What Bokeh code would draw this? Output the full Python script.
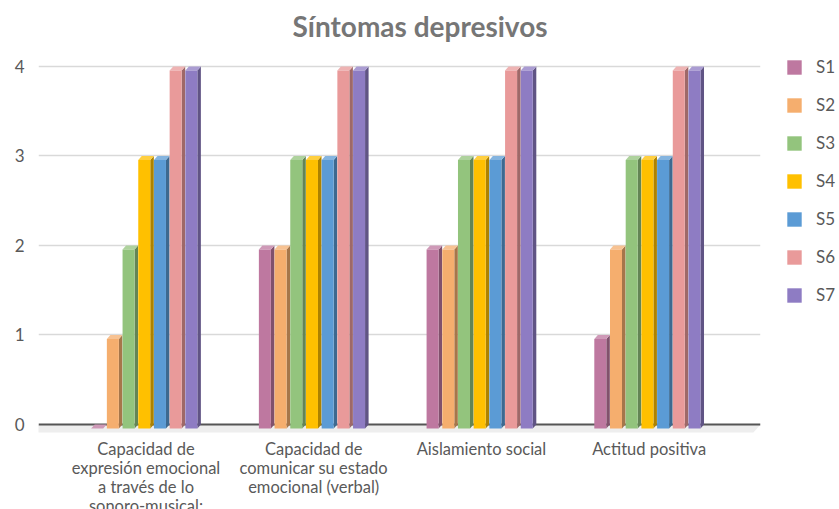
from bokeh.plotting import figure
from bokeh.models import FixedTicker, Legend, LegendItem
from bokeh.embed import file_html
from bokeh.resources import INLINE

# ---- data -------------------------------------------------------------
categories = [
    "Capacidad de\nexpresión emocional\na través de lo\nsonoro-musical:",
    "Capacidad de\ncomunicar su estado\nemocional (verbal)",
    "Aislamiento social",
    "Actitud positiva",
]
series_names = ["S1", "S2", "S3", "S4", "S5", "S6", "S7"]
s1 = [0, 2, 2, 1]
s2 = [1, 2, 2, 2]
s3 = [2, 3, 3, 3]
s4 = [3, 3, 3, 3]
s5 = [3, 3, 3, 3]
s6 = [4, 4, 4, 4]
s7 = [4, 4, 4, 4]
series_values = [s1, s2, s3, s4, s5, s6, s7]
y_ticks = [0, 1, 2, 3, 4]

# ---- styling ----------------------------------------------------------
base_colors = ["#BE78A0", "#F5AE6E", "#93C47D", "#FFC000",
               "#5B9BD5", "#E99A9A", "#8E7CC3"]
FONT = "Lato"
TEXT = "#595959"


def shade(hex_color, f):
    r, g, b = (int(hex_color[i:i + 2], 16) for i in (1, 3, 5))
    return "#%02x%02x%02x" % (int(r * f), int(g * f), int(b * f))


def tint(hex_color, f):
    r, g, b = (int(hex_color[i:i + 2], 16) for i in (1, 3, 5))
    return "#%02x%02x%02x" % (int(r + (255 - r) * f), int(g + (255 - g) * f),
                              int(b + (255 - b) * f))


# 3D bar geometry (category units on x, value units on y)
slot = 0.0936      # horizontal space per series
front_w = 0.0716   # width of a bar's front face
dx = 0.021         # depth offset to the right
dz = 0.0447        # depth offset upwards
floor_dx = 0.042
floor_dz = 0.089

x_start, x_end = -0.641, 3.664
p = figure(
    frame_width=722, frame_height=391,
    x_range=(x_start, x_end), y_range=(-0.1341, 4.2346),
    output_backend="svg", toolbar_location=None,
    min_border_left=38, min_border_right=79, min_border_top=45,
    min_border_bottom=60,
    background_fill_color="white", border_fill_color="white",
    outline_line_color=None,
)

# title
p.title.text = "Síntomas depresivos"
p.title.align = "left"
p.title.offset = 254
p.title.standoff = 4
p.title.text_font = FONT
p.title.text_font_size = "28px"
p.title.text_font_style = "bold"
p.title.text_color = "#767676"
p.title.vertical_align = "middle"

# axes
p.yaxis.ticker = FixedTicker(ticks=y_ticks)
p.yaxis.axis_line_color = None
p.yaxis.major_tick_line_color = None
p.yaxis.minor_tick_line_color = None
p.yaxis.major_label_standoff = 8
p.yaxis.major_label_text_font = FONT
p.yaxis.major_label_text_font_size = "17px"
p.yaxis.major_label_text_color = TEXT

p.xaxis.ticker = FixedTicker(ticks=list(range(len(categories))))
p.xaxis.major_label_overrides = {i: c for i, c in enumerate(categories)}
p.xaxis.axis_line_color = None
p.xaxis.major_tick_line_color = None
p.xaxis.minor_tick_line_color = None
p.xaxis.major_label_standoff = -4
p.xaxis.major_label_text_font = FONT
p.xaxis.major_label_text_font_size = "16.5px"
p.xaxis.major_label_text_color = TEXT
p.xaxis.major_label_text_line_height = 0.95

p.xgrid.visible = False
p.ygrid.ticker = FixedTicker(ticks=y_ticks[1:])
p.ygrid.grid_line_color = "#D9D9D9"
p.ygrid.grid_line_width = 1.3

# floor of the 3D box
p.patch(x=[x_start, x_end, x_end - floor_dx, x_start - floor_dx],
        y=[0, 0, -floor_dz, -floor_dz], fill_color="#EEEEEE", line_color=None)
p.hspan(y=[0], line_color="#555555", line_width=2)

# bars
legend_items = []
n_cat = len(categories)
for j, (name, vals, col) in enumerate(zip(series_names, series_values, base_colors)):
    lefts = [i - 0.327 + j * slot for i in range(n_cat)]
    rights = [l + front_w for l in lefts]
    side_xs = [[r, r + dx, r + dx, r] for r in rights]
    side_ys = [[-dz, 0, v, v - dz] for v in vals]
    top_xs = [[l, r, r + dx, l + dx] for l, r in zip(lefts, rights)]
    top_ys = [[v - dz, v - dz, v, v] for v in vals]
    p.patches(side_xs, side_ys, fill_color=shade(col, 0.68), line_color=None)
    p.patches(top_xs, top_ys, fill_color=tint(col, 0.25), line_color=None)
    front = p.quad(left=lefts, right=rights,
                   bottom=[-dz] * n_cat, top=[v - dz for v in vals],
                   fill_color=col, line_color=None)
    legend_items.append(LegendItem(label=name, renderers=[front]))

legend = Legend(
    items=legend_items, location=(25, 131),
    glyph_width=18, glyph_height=18, spacing=17, padding=0, margin=0,
    label_standoff=13, label_text_font=FONT, label_text_font_size="17px",
    label_text_color=TEXT, border_line_color=None, background_fill_alpha=0,
)
p.add_layout(legend, "right")

open("out.html", "w").write(file_html(p, INLINE))
